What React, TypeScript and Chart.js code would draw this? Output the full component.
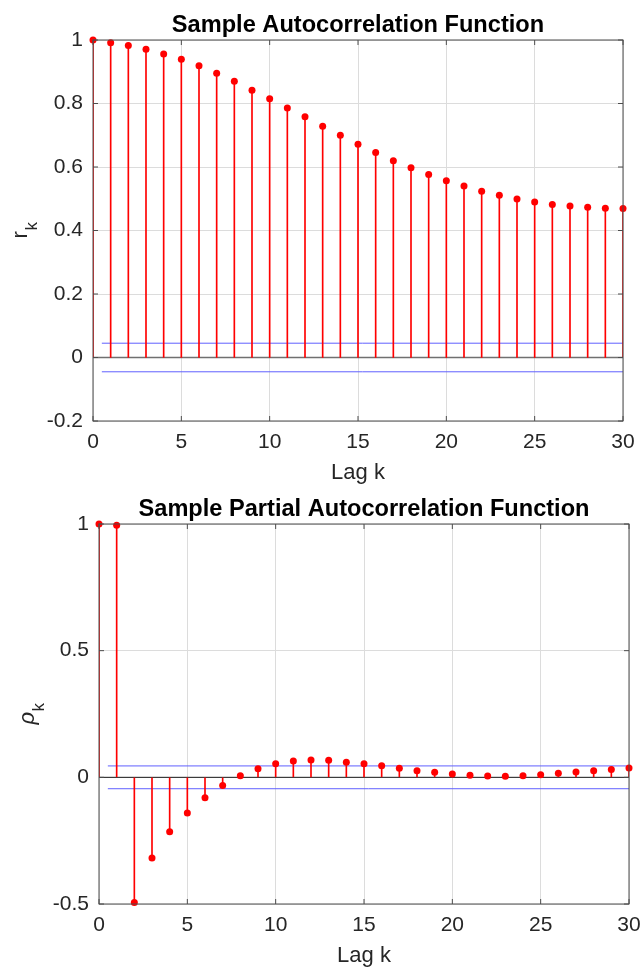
import React, { useEffect, useRef } from "react";
import { Chart, registerables } from "chart.js";

Chart.register(...registerables);

// ---------------- data ----------------
const lags = [0, 1, 2, 3, 4, 5, 6, 7, 8, 9, 10, 11, 12, 13, 14, 15, 16, 17, 18, 19, 20, 21, 22, 23, 24, 25, 26, 27, 28, 29, 30];

const acfValues = [
  1.0, 0.991, 0.983, 0.971, 0.956, 0.939, 0.919, 0.895, 0.87, 0.842, 0.815,
  0.786, 0.758, 0.728, 0.7, 0.672, 0.646, 0.62, 0.598, 0.576, 0.557,
  0.54, 0.524, 0.511, 0.499, 0.49, 0.482, 0.477, 0.473, 0.47, 0.469,
];

const pacfValues = [
  1.0, 0.995, -0.494, -0.318, -0.215, -0.141, -0.081, -0.032, 0.006, 0.034, 0.054,
  0.064, 0.068, 0.067, 0.06, 0.054, 0.046, 0.036, 0.026, 0.02, 0.013,
  0.008, 0.005, 0.004, 0.006, 0.01, 0.016, 0.021, 0.026, 0.031, 0.037,
];

const confBound = 0.045;
const boundRange = [0.5, 30];

const xRange = [0, 30];
const xStep = 5;
const acfYRange = [-0.2, 1];
const acfYStep = 0.2;
const pacfYRange = [-0.5, 1];
const pacfYStep = 0.5;

const acfTitle = "Sample Autocorrelation Function";
const pacfTitle = "Sample Partial Autocorrelation Function";
const xAxisLabel = "Lag k";

// ---------------- styling ----------------
const FONT = "'Liberation Sans', Arial, Helvetica, sans-serif";
const TICK_COLOR = "#262626";

const framePlugin = {
  id: "stemFrame",
  afterDraw(chart: any, _args: any, opts: any) {
    const ctx = chart.ctx;
    const { left, right, top, bottom } = chart.chartArea;
    ctx.save();
    // box
    ctx.strokeStyle = "#4d4d4d";
    ctx.lineWidth = 1;
    ctx.strokeRect(left, top, right - left, bottom - top);
    // inward tick marks
    const tl = 5;
    ctx.beginPath();
    chart.scales.x.ticks.forEach((t: any) => {
      const px = chart.scales.x.getPixelForValue(t.value);
      ctx.moveTo(px, bottom);
      ctx.lineTo(px, bottom - tl);
      ctx.moveTo(px, top);
      ctx.lineTo(px, top + tl);
    });
    chart.scales.y.ticks.forEach((t: any) => {
      const py = chart.scales.y.getPixelForValue(t.value);
      ctx.moveTo(left, py);
      ctx.lineTo(left + tl, py);
      ctx.moveTo(right, py);
      ctx.lineTo(right - tl, py);
    });
    ctx.stroke();

    const cx = (left + right) / 2;
    // title
    ctx.fillStyle = "#000";
    ctx.font = `bold 23.6px ${FONT}`;
    ctx.textAlign = "center";
    ctx.textBaseline = "alphabetic";
    ctx.fillText(opts.title, cx, top - 8);

    // x label
    ctx.fillStyle = TICK_COLOR;
    ctx.font = `22px ${FONT}`;
    ctx.fillText(opts.xLabel, cx, bottom + 58);

    // y label with subscript
    const cy = (top + bottom) / 2;
    const mainFont = `${opts.yItalic ? "italic " : ""}22px ${FONT}`;
    const subFont = `17px ${FONT}`;
    ctx.font = mainFont;
    const w1 = ctx.measureText(opts.yMain).width;
    ctx.font = subFont;
    const w2 = ctx.measureText(opts.ySub).width;
    const total = w1 + w2;
    ctx.translate(left - opts.yLabelGap, cy);
    ctx.rotate(-Math.PI / 2);
    ctx.textAlign = "left";
    ctx.font = mainFont;
    ctx.fillText(opts.yMain, -total / 2, 0);
    ctx.font = subFont;
    ctx.fillText(opts.ySub, -total / 2 + w1 + 0.5, 10);
    ctx.restore();
  },
};

function fmt(v: number) {
  return String(Math.round(v * 100) / 100);
}

type StemProps = {
  values: number[];
  yRange: number[];
  yStep: number;
  width: number;
  height: number;
  area: { left: number; right: number; top: number; bottom: number };
  title: string;
  yMain: string;
  ySub: string;
  yItalic: boolean;
  yLabelGap: number;
  zeroColor: string;
  zeroWidth: number;
};

function StemChart(p: StemProps) {
  const ref = useRef<HTMLCanvasElement | null>(null);
  useEffect(() => {
    if (!ref.current) return;
    const pts = lags.map((l, i) => ({ x: l, y: p.values[i] }));
    const chart = new Chart(ref.current, {
      type: "scatter",
      data: {
        datasets: [
          {
            type: "scatter",
            data: pts,
            pointRadius: 3.5,
            pointHoverRadius: 3.5,
            pointBackgroundColor: "#ff0000",
            pointBorderColor: "#ff0000",
            pointBorderWidth: 0,
            clip: false,
            order: 0,
          } as any,
          {
            type: "bar",
            data: pts,
            backgroundColor: "#ff0000",
            borderWidth: 0,
            barThickness: 1,
            order: 1,
          } as any,
          {
            type: "line",
            data: [
              { x: xRange[0], y: 0 },
              { x: xRange[1], y: 0 },
            ],
            borderColor: p.zeroColor,
            borderWidth: p.zeroWidth,
            pointRadius: 0,
            order: 2,
          } as any,
          {
            type: "line",
            data: [
              { x: boundRange[0], y: confBound },
              { x: boundRange[1], y: confBound },
            ],
            borderColor: "#6060ff",
            borderWidth: 1,
            pointRadius: 0,
            order: 3,
          } as any,
          {
            type: "line",
            data: [
              { x: boundRange[0], y: -confBound },
              { x: boundRange[1], y: -confBound },
            ],
            borderColor: "#6060ff",
            borderWidth: 1,
            pointRadius: 0,
            order: 3,
          } as any,
        ],
      },
      options: {
        animation: false,
        responsive: false,
        events: [],
        layout: {
          padding: {
            left: 0,
            top: p.area.top,
            right: p.width - p.area.right,
            bottom: 0,
          },
        },
        plugins: {
          legend: { display: false },
          tooltip: { enabled: false },
          title: { display: false },
          stemFrame: {
            title: p.title,
            xLabel: xAxisLabel,
            yMain: p.yMain,
            ySub: p.ySub,
            yItalic: p.yItalic,
            yLabelGap: p.yLabelGap,
          },
        } as any,
        scales: {
          x: {
            type: "linear",
            min: xRange[0],
            max: xRange[1],
            offset: false,
            ticks: {
              stepSize: xStep,
              autoSkip: false,
              maxRotation: 0,
              color: TICK_COLOR,
              font: { family: FONT, size: 21 },
              padding: 9,
              callback: (v: any) => fmt(Number(v)),
            },
            grid: { color: "#dcdcdc", drawTicks: false, offset: false, lineWidth: 1 },
            border: { display: false },
            afterFit: (s: any) => {
              s.height = p.height - p.area.bottom;
              s.paddingLeft = 0;
              s.paddingRight = 0;
            },
          },
          y: {
            type: "linear",
            min: p.yRange[0],
            max: p.yRange[1],
            ticks: {
              stepSize: p.yStep,
              autoSkip: false,
              color: TICK_COLOR,
              font: { family: FONT, size: 21 },
              padding: 10,
              callback: (v: any) => fmt(Number(v)),
            },
            grid: { color: "#dcdcdc", drawTicks: false, lineWidth: 1 },
            border: { display: false },
            afterFit: (s: any) => {
              s.width = p.area.left;
              s.paddingTop = 0;
              s.paddingBottom = 0;
            },
          },
        },
      } as any,
      plugins: [framePlugin],
    });
    return () => chart.destroy();
  }, []);
  return (
    <canvas
      ref={ref}
      width={p.width}
      height={p.height}
      style={{ display: "block", width: p.width, height: p.height }}
    />
  );
}

export default function App() {
  return (
    <div
      style={{
        position: "absolute",
        left: 0,
        top: 0,
        width: 643,
        height: 969,
        background: "#ffffff",
      }}
    >
      <StemChart
        values={acfValues}
        yRange={acfYRange}
        yStep={acfYStep}
        width={643}
        height={485}
        area={{ left: 93, right: 623, top: 40, bottom: 421 }}
        title={acfTitle}
        yMain="r"
        ySub="k"
        yItalic={false}
        yLabelGap={66}
        zeroColor="#707070"
        zeroWidth={1.5}
      />
      <StemChart
        values={pacfValues}
        yRange={pacfYRange}
        yStep={pacfYStep}
        width={643}
        height={484}
        area={{ left: 99, right: 629, top: 39, bottom: 419 }}
        title={pacfTitle}
        yMain="ρ"
        ySub="k"
        yItalic={true}
        yLabelGap={65}
        zeroColor="#1a1a1a"
        zeroWidth={1}
      />
    </div>
  );
}
